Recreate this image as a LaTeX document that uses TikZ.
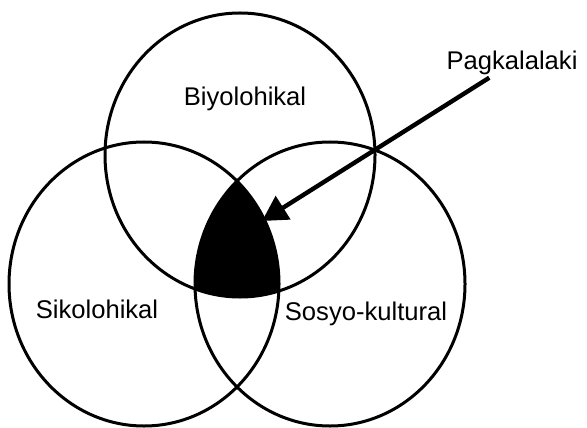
\documentclass[tikz,border=0pt]{standalone}
\usepackage{fontspec}
\setmainfont{Liberation Sans}
\usetikzlibrary{arrows.meta}

\begin{document}
\begin{tikzpicture}[
    x=0.5pt, y=-0.5pt,
    ring/.style={line width=1.5pt, draw=black},
    field/.style={font=\fontsize{12.8}{15}\selectfont, anchor=base, inner sep=1pt},
    pointer/.style={line width=2.2pt, -{Triangle[length=12.5pt, width=13.5pt]}}
]
\useasboundingbox (0,0) rectangle (587,427);
% the common area of the three circles
\begin{scope}
    \clip (240,155) ellipse [x radius=135, y radius=142];
    \clip (144,284) ellipse [x radius=135, y radius=142];
    \fill[black] (330,284) ellipse [x radius=135, y radius=142];
\end{scope}
\draw[ring] (240,155) ellipse [x radius=135, y radius=142];
\draw[ring] (144,284) ellipse [x radius=135, y radius=142];
\draw[ring] (330,284) ellipse [x radius=135, y radius=142];

\node[field] (bio) at (245,106) {Biyolohikal};
\node[field] (siko) at (97,318) {Sikolohikal};
\node[field] (sosyo) at (366,320) {Sosyo-kultural};
\node[field] (lalaki) at (512,70) {Pagkalalaki};

\coordinate (core) at (262,221);
\draw[pointer] (lalaki) -- (core);
\end{tikzpicture}
\end{document}
